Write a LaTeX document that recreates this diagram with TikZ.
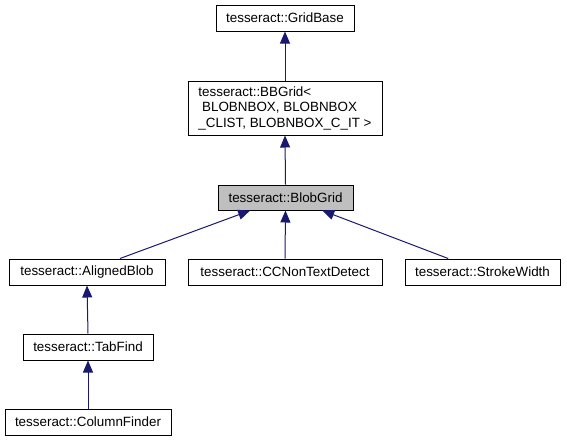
\documentclass[tikz,border=0pt]{standalone}
\usepackage{fontspec}
\setmainfont{Liberation Sans}
\usetikzlibrary{arrows.meta,calc}
\definecolor{edgeblue}{HTML}{191970}
\definecolor{curgray}{HTML}{BFBFBF}
\tikzset{
  cls/.style={draw=black, line width=1pt, fill=white, inner sep=0pt, font=\fontsize{13.4}{15.5}\selectfont},
  inh/.style={draw=edgeblue, line width=1pt, -{Triangle[width=10pt,length=12pt]}, edgeblue},
}
\begin{document}
\begin{tikzpicture}[x=1pt,y=-1pt]
\useasboundingbox (0,0) rectangle (567,440);
\node[cls, minimum width=138pt, minimum height=26pt] (grid) at (285,18) {tesseract::GridBase};
\node[cls, minimum width=194pt, minimum height=54pt, align=left] (bb) at (285,108) {tesseract::BBGrid\textless\\ \ BLOBNBOX, BLOBNBOX\\\_CLIST, BLOBNBOX\_C\_IT \textgreater};
\node[cls, fill=curgray, minimum width=135pt, minimum height=25pt] (blob) at (285.5,197.5) {tesseract::BlobGrid};
\node[cls, minimum width=156pt, minimum height=26pt] (aligned) at (87,272) {tesseract::AlignedBlob};
\node[cls, minimum width=194pt, minimum height=26pt] (cc) at (285,272) {tesseract::CCNonTextDetect};
\node[cls, minimum width=155pt, minimum height=26pt] (stroke) at (482.5,272) {tesseract::StrokeWidth};
\node[cls, minimum width=130pt, minimum height=26pt] (tab) at (88,347) {tesseract::TabFind};
\node[cls, minimum width=166pt, minimum height=26pt] (col) at (88,422) {tesseract::ColumnFinder};
\draw[inh] (bb.north) -- (grid.south);
\draw[inh] (blob.north) -- (bb.south);
\draw[inh] ($(aligned.north west)!0.71!(aligned.north east)$) -- ($(blob.south west)!0.24!(blob.south east)$);
\draw[inh] (cc.north) -- (blob.south);
\draw[inh] ($(stroke.north west)!0.28!(stroke.north east)$) -- ($(blob.south west)!0.77!(blob.south east)$);
\draw[inh] (tab.north) -- (aligned.south);
\draw[inh] (col.north) -- (tab.south);
\end{tikzpicture}
\end{document}
